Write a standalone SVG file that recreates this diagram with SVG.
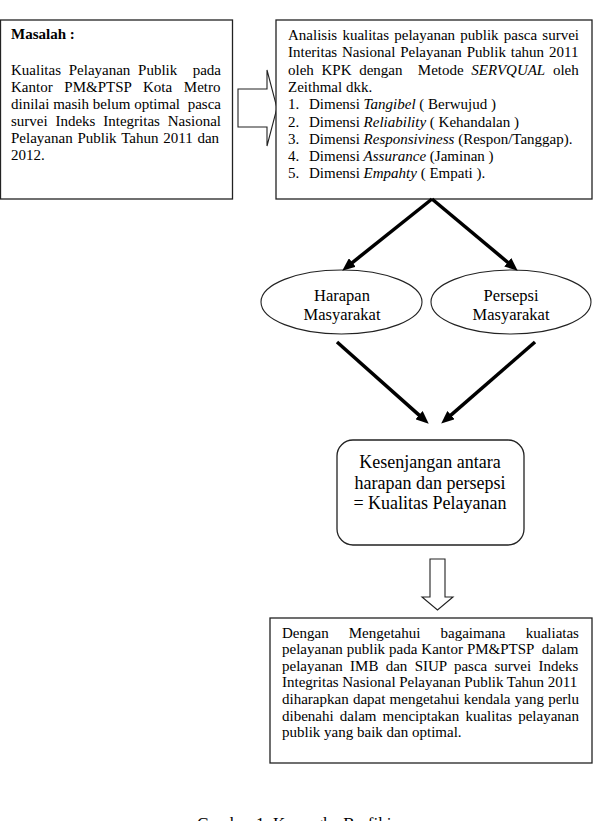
<svg xmlns="http://www.w3.org/2000/svg" width="597" height="821" viewBox="0 0 597 821">
<defs>
<style>
text{font-family:"Liberation Serif","Times New Roman",serif;fill:#000;}
.t15{font-size:15px;}
.box{fill:#fff;stroke:#222;stroke-width:1.3;}
.blk{fill:#fff;stroke:#222;stroke-width:1.1;}
.ell{fill:#fff;stroke:#222;stroke-width:1.1;}
.con{stroke:#000;stroke-width:3.5;fill:none;marker-end:url(#ah);}
.i{font-style:italic;}
</style>
<marker id="ah" markerUnits="userSpaceOnUse" markerWidth="13" markerHeight="11" refX="2" refY="5.5" orient="auto">
<path d="M0,0 L13,5.5 L0,11 z" fill="#000"/>
</marker>
</defs>
<rect width="597" height="821" fill="#fff"/>

<g id="masalah">
<rect class="box" x="0.5" y="20" width="232" height="179"/>
<text class="t15" x="11" y="39" font-weight="bold">Masalah :</text>
<text class="t15" x="11" y="75" word-spacing="3.97" xml:space="preserve">Kualitas Pelayanan Publik  pada</text>
<text class="t15" x="11" y="92" word-spacing="7.92">Kantor PM&amp;PTSP Kota Metro</text>
<text class="t15" x="11" y="109" word-spacing="0.09" xml:space="preserve">dinilai masih belum optimal  pasca</text>
<text class="t15" x="11" y="126" word-spacing="4.05">survei Indeks Integritas Nasional</text>
<text class="t15" x="11" y="143" word-spacing="1.05">Pelayanan Publik Tahun 2011 dan</text>
<text class="t15" x="11" y="160">2012.</text>
</g>

<g id="arrow-right">
<polygon class="blk" points="238,89 267,89 267,70 277,108 267,146 267,127 238,127"/>
</g>

<g id="analisis">
<rect class="box" x="276" y="20" width="316" height="179"/>
<text class="t15" x="288" y="40" word-spacing="1.46">Analisis kualitas pelayanan publik pasca survei</text>
<text class="t15" x="288" y="57" word-spacing="1.12">Interitas Nasional Pelayanan Publik tahun 2011</text>
<text class="t15" x="288" y="75" word-spacing="3.92" xml:space="preserve">oleh KPK dengan  Metode <tspan class="i">SERVQUAL</tspan> oleh</text>
<text class="t15" x="288" y="92">Zeithmal dkk.</text>
<text class="t15" y="109"><tspan x="288">1.</tspan><tspan x="309">Dimensi </tspan><tspan class="i">Tangibel</tspan><tspan> ( Berwujud )</tspan></text>
<text class="t15" y="127"><tspan x="288">2.</tspan><tspan x="309">Dimensi </tspan><tspan class="i">Reliability</tspan><tspan> ( Kehandalan )</tspan></text>
<text class="t15" y="144"><tspan x="288">3.</tspan><tspan x="309">Dimensi </tspan><tspan class="i">Responsiviness</tspan><tspan> (Respon/Tanggap).</tspan></text>
<text class="t15" y="161"><tspan x="288">4.</tspan><tspan x="309">Dimensi </tspan><tspan class="i">Assurance</tspan><tspan> (Jaminan )</tspan></text>
<text class="t15" y="178"><tspan x="288">5.</tspan><tspan x="309">Dimensi </tspan><tspan class="i">Empahty</tspan><tspan> ( Empati ).</tspan></text>
</g>

<g id="harapan">
<ellipse class="ell" cx="341.5" cy="302" rx="80.5" ry="32"/>
<text x="342" y="301" font-size="16.5" text-anchor="middle">Harapan</text>
<text x="342" y="320" font-size="16.5" text-anchor="middle">Masyarakat</text>
</g>

<g id="persepsi">
<ellipse class="ell" cx="511" cy="302" rx="80" ry="32"/>
<text x="511" y="301" font-size="16.5" text-anchor="middle">Persepsi</text>
<text x="511" y="320" font-size="16.5" text-anchor="middle">Masyarakat</text>
</g>

<g id="kesenjangan">
<rect class="box" x="337" y="440" width="187" height="105" rx="16" ry="16"/>
<text x="430" y="468" font-size="18" text-anchor="middle">Kesenjangan antara</text>
<text x="430" y="489" font-size="18" text-anchor="middle">harapan dan persepsi</text>
<text x="430" y="509" font-size="18" text-anchor="middle">= Kualitas Pelayanan</text>
</g>

<g id="arrow-down">
<polygon class="blk" points="430,559 445,559 445,597 453,597 437.5,610 422,597 430,597"/>
</g>

<g id="kesimpulan">
<rect class="box" x="270" y="618" width="322" height="145"/>
<text class="t15" x="282" y="638" word-spacing="16.38">Dengan Mengetahui bagaimana kualiatas</text>
<text class="t15" x="282" y="654" word-spacing="0.2" xml:space="preserve">pelayanan publik pada Kantor PM&amp;PTSP  dalam</text>
<text class="t15" x="282" y="671" word-spacing="3.54">pelayanan IMB dan SIUP pasca survei Indeks</text>
<text class="t15" x="282" y="687" word-spacing="-0.17">Integritas Nasional Pelayanan Publik Tahun 2011</text>
<text class="t15" x="282" y="704" word-spacing="0.5">diharapkan dapat mengetahui kendala yang perlu</text>
<text class="t15" x="282" y="721" word-spacing="2.4">dibenahi dalam menciptakan kualitas pelayanan</text>
<text class="t15" x="282" y="737">publik yang baik dan optimal.</text>
</g>

<g id="connectors">
<line class="con" x1="432" y1="199" x2="350.8" y2="263.8"/>
<line class="con" x1="432" y1="199" x2="509.3" y2="263.6"/>
<line class="con" x1="337" y1="342" x2="420.5" y2="416.4"/>
<line class="con" x1="535" y1="342" x2="449.5" y2="416.4"/>
</g>

<text x="297" y="829" font-size="17" text-anchor="middle">Gambar 1. Kerangka Berfikir</text>
</svg>
